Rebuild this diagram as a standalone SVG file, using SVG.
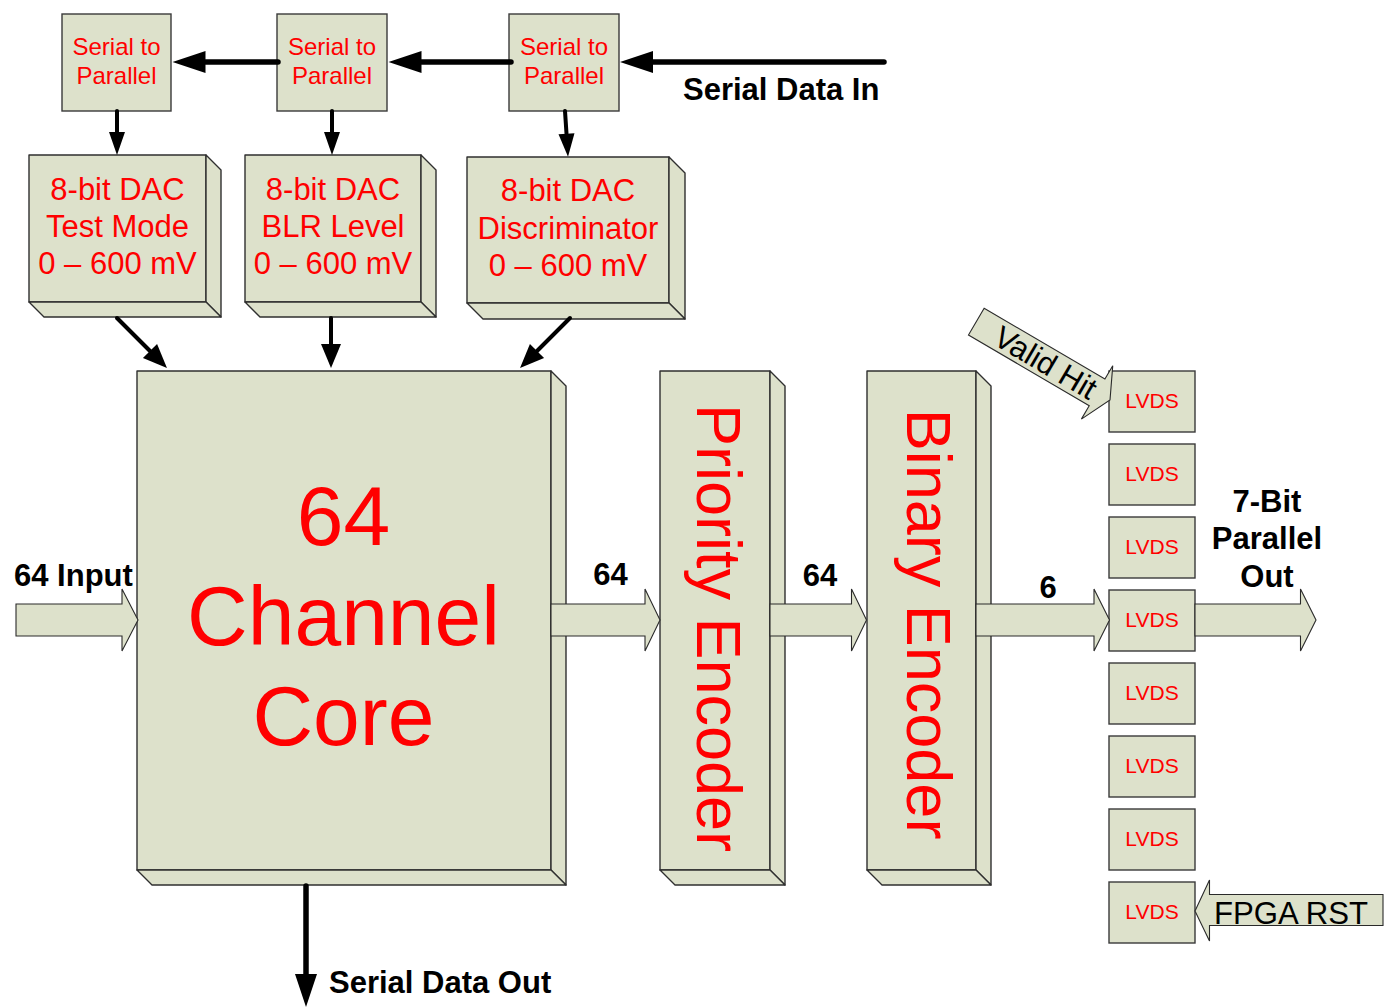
<svg xmlns="http://www.w3.org/2000/svg" width="1385" height="1008" viewBox="0 0 1385 1008">
  <style>
    .face { fill: #dde1cb; stroke: #2f2f2f; stroke-width: 1.4; stroke-linejoin: round; }
    .flat { fill: #dde1cb; stroke: #3a3a3a; stroke-width: 1.4; }
    .red { fill: #ff0000; font-family: "Liberation Sans", Arial, sans-serif; text-anchor: middle; }
    .lbl { fill: #000; font-family: "Liberation Sans", Arial, sans-serif; font-weight: bold; font-size: 31px; }
    .plain { fill: #000; font-family: "Liberation Sans", Arial, sans-serif; font-size: 31px; }
    .bus { fill: #dde1cb; stroke: #2a2a2a; stroke-width: 1.1; stroke-linejoin: miter; }
    .wire { fill: none; stroke: #000; stroke-linecap: round; }
    .thick { stroke-width: 5.5; }
    .thin { stroke-width: 4; }
  </style>
  <defs>
    <marker id="head-lg" markerUnits="userSpaceOnUse" markerWidth="34" markerHeight="24" refX="0" refY="11" orient="auto" overflow="visible">
      <path d="M0,0 L33,11 L0,22 Z" fill="#000"/>
    </marker>
    <marker id="head-sm" markerUnits="userSpaceOnUse" markerWidth="25" markerHeight="18" refX="0" refY="8" orient="auto" overflow="visible">
      <path d="M0,0 L23,8 L0,16 Z" fill="#000"/>
    </marker>
    <marker id="head-md" markerUnits="userSpaceOnUse" markerWidth="25" markerHeight="22" refX="0" refY="10" orient="auto" overflow="visible">
      <path d="M0,0 L24,10 L0,20 Z" fill="#000"/>
    </marker>
    <!-- block arrow pointing right, tip at origin -->
    <path id="block-arrow-head" d="M0,0 L-15,-31 L-15,-15.5 L-155,-15.5 L-155,15.5 L-15,15.5 L-15,31 Z"/>
  </defs>

  <!-- serial to parallel converters -->
  <g id="s2p-1">
    <rect class="flat" x="62" y="14" width="109" height="97"/>
    <text class="red" font-size="24" x="116.5" y="55">Serial to</text>
    <text class="red" font-size="24" x="116.5" y="84">Parallel</text>
  </g>
  <g id="s2p-2">
    <rect class="flat" x="277" y="14" width="110" height="97"/>
    <text class="red" font-size="24" x="332" y="55">Serial to</text>
    <text class="red" font-size="24" x="332" y="84">Parallel</text>
  </g>
  <g id="s2p-3">
    <rect class="flat" x="509" y="14" width="110" height="97"/>
    <text class="red" font-size="24" x="564" y="55">Serial to</text>
    <text class="red" font-size="24" x="564" y="84">Parallel</text>
  </g>

  <!-- DACs -->
  <g id="dac-test">
    <rect class="face" x="29" y="155" width="177" height="147"/>
    <polygon class="face" points="206,155 221,170 221,317 206,302"/>
    <polygon class="face" points="29,302 206,302 221,317 44,317"/>
    <text class="red" font-size="31" x="117.5" y="200">8-bit DAC</text>
    <text class="red" font-size="31" x="117.5" y="237">Test Mode</text>
    <text class="red" font-size="31" x="117.5" y="274">0 – 600 mV</text>
  </g>
  <g id="dac-blr">
    <rect class="face" x="245" y="155" width="176" height="147"/>
    <polygon class="face" points="421,155 436,170 436,317 421,302"/>
    <polygon class="face" points="245,302 421,302 436,317 260,317"/>
    <text class="red" font-size="31" x="333" y="200">8-bit DAC</text>
    <text class="red" font-size="31" x="333" y="237">BLR Level</text>
    <text class="red" font-size="31" x="333" y="274">0 – 600 mV</text>
  </g>
  <g id="dac-disc">
    <rect class="face" x="467" y="157" width="202" height="146"/>
    <polygon class="face" points="669,157 685,173 685,319 669,303"/>
    <polygon class="face" points="467,303 669,303 685,319 483,319"/>
    <text class="red" font-size="31" x="568" y="201">8-bit DAC</text>
    <text class="red" font-size="31" x="568" y="239">Discriminator</text>
    <text class="red" font-size="31" x="568" y="276">0 – 600 mV</text>
  </g>

  <!-- channel core -->
  <g id="core">
    <rect class="face" x="137" y="371" width="414" height="499"/>
    <polygon class="face" points="551,371 566,386 566,885 551,870"/>
    <polygon class="face" points="137,870 551,870 566,885 152,885"/>
    <text class="red" font-size="84" x="343.5" y="545">64</text>
    <text class="red" font-size="84" x="343.5" y="645">Channel</text>
    <text class="red" font-size="84" x="343.5" y="745">Core</text>
  </g>

  <!-- encoders -->
  <g id="priority-encoder">
    <rect class="face" x="660" y="371" width="110" height="499"/>
    <polygon class="face" points="770,371 785,386 785,885 770,870"/>
    <polygon class="face" points="660,870 770,870 785,885 675,885"/>
    <text class="red" font-size="63" transform="translate(697,628) rotate(90)">Priority Encoder</text>
  </g>
  <g id="binary-encoder">
    <rect class="face" x="867" y="371" width="109" height="499"/>
    <polygon class="face" points="976,371 991,386 991,885 976,870"/>
    <polygon class="face" points="867,870 976,870 991,885 882,885"/>
    <text class="red" font-size="63" transform="translate(907,624) rotate(90)">Binary Encoder</text>
  </g>

  <!-- LVDS drivers -->
  <g id="lvds-1"><rect class="flat" x="1109" y="371" width="86" height="61"/><text class="red" font-size="21" x="1152" y="407.5">LVDS</text></g>
  <g id="lvds-2"><rect class="flat" x="1109" y="444" width="86" height="61"/><text class="red" font-size="21" x="1152" y="480.5">LVDS</text></g>
  <g id="lvds-3"><rect class="flat" x="1109" y="517" width="86" height="61"/><text class="red" font-size="21" x="1152" y="553.5">LVDS</text></g>
  <g id="lvds-4"><rect class="flat" x="1109" y="590" width="86" height="61"/><text class="red" font-size="21" x="1152" y="626.5">LVDS</text></g>
  <g id="lvds-5"><rect class="flat" x="1109" y="663" width="86" height="61"/><text class="red" font-size="21" x="1152" y="699.5">LVDS</text></g>
  <g id="lvds-6"><rect class="flat" x="1109" y="736" width="86" height="61"/><text class="red" font-size="21" x="1152" y="772.5">LVDS</text></g>
  <g id="lvds-7"><rect class="flat" x="1109" y="809" width="86" height="61"/><text class="red" font-size="21" x="1152" y="845.5">LVDS</text></g>
  <g id="lvds-8"><rect class="flat" x="1109" y="882" width="86" height="61"/><text class="red" font-size="21" x="1152" y="918.5">LVDS</text></g>

  <!-- connectors -->
  <g id="connectors">
    <!-- serial configuration chain -->
    <path class="wire thick" d="M884,62 H653" marker-end="url(#head-lg)"/>
    <path class="wire thick" d="M511,62 H421.5" marker-end="url(#head-lg)"/>
    <path class="wire thick" d="M278,62 H205.5" marker-end="url(#head-lg)"/>
    <!-- register to DAC -->
    <path class="wire thin" d="M117,111 V132" marker-end="url(#head-sm)"/>
    <path class="wire thin" d="M332,111 V132" marker-end="url(#head-sm)"/>
    <path class="wire thin" d="M565,111 L566.5,133.7" marker-end="url(#head-sm)"/>
    <!-- DAC to core -->
    <path class="wire thin" d="M117,318 L150,351" marker-end="url(#head-md)"/>
    <path class="wire thin" d="M331,318 V344" marker-end="url(#head-md)"/>
    <path class="wire thin" d="M570,318 L537,351" marker-end="url(#head-md)"/>
    <!-- serial readout -->
    <path class="wire thick" d="M306,886 V974" marker-end="url(#head-lg)"/>

    <!-- data path buses -->
    <polygon class="bus" points="16,604 122,604 122,589 138,620 122,651 122,636 16,636"/>
    <polygon class="bus" points="551,604 645,604 645,589 660,620 645,651 645,636 551,636"/>
    <polygon class="bus" points="770,604 851.5,604 851.5,589 866.5,620 851.5,651 851.5,636 770,636"/>
    <polygon class="bus" points="976,604 1094,604 1094,589 1109.5,620 1094,651 1094,636 976,636"/>
    <polygon class="bus" points="1195,604 1300.5,604 1300.5,589 1316,620 1300.5,651 1300.5,636 1195,636"/>

    <!-- valid hit input -->
    <g transform="translate(1110,400) rotate(30.4)">
      <use href="#block-arrow-head" class="bus"/>
      <text class="plain" font-size="33" x="-131" y="11">Valid Hit</text>
    </g>
    <!-- FPGA reset input -->
    <polygon class="bus" points="1195,911 1209.5,880 1209.5,894.5 1383,894.5 1383,925.5 1209.5,925.5 1209.5,941"/>
    <text class="plain" x="1214" y="924" font-size="32" textLength="154" lengthAdjust="spacingAndGlyphs">FPGA RST</text>

    <!-- labels -->
    <text class="lbl" x="683" y="100">Serial Data In</text>
    <text class="lbl" x="14" y="586">64 Input</text>
    <text class="lbl" x="610.5" y="585" text-anchor="middle">64</text>
    <text class="lbl" x="820" y="586" text-anchor="middle">64</text>
    <text class="lbl" x="1048" y="598" text-anchor="middle">6</text>
    <text class="lbl" x="1267" y="512" text-anchor="middle">7-Bit</text>
    <text class="lbl" x="1267" y="549" text-anchor="middle">Parallel</text>
    <text class="lbl" x="1267" y="587" text-anchor="middle">Out</text>
    <text class="lbl" x="329" y="993">Serial Data Out</text>
  </g>
</svg>
